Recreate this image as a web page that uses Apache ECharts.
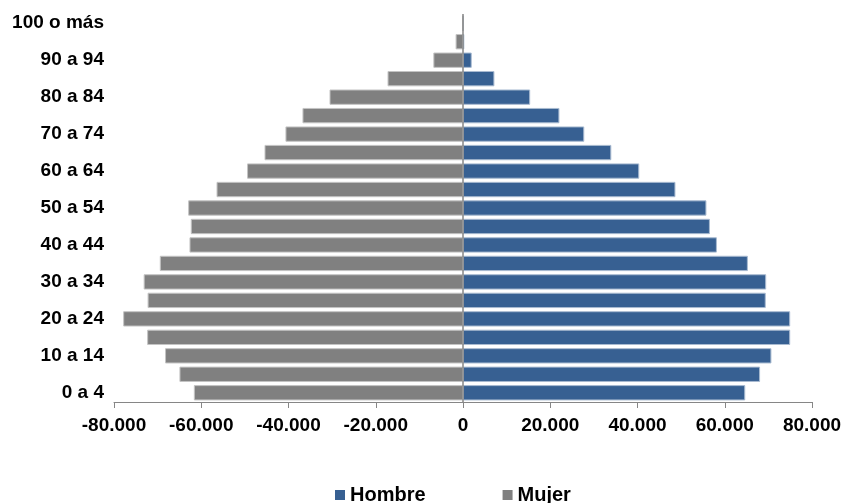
<!DOCTYPE html>
<html><head><meta charset="utf-8">
<script src="https://cdn.jsdelivr.net/npm/echarts@6/dist/echarts.min.js"></script>
<style>html,body{margin:0;padding:0;background:#fff}#c{width:845px;height:503px}</style>
</head><body><div id="c"></div>
<script>
var categories = ['0 a 4','5 a 9','10 a 14','15 a 19','20 a 24','25 a 29','30 a 34','35 a 39','40 a 44','45 a 49','50 a 54','55 a 59','60 a 64','65 a 69','70 a 74','75 a 79','80 a 84','85 a 89','90 a 94','95 a 99','100 o más'];
var hombre = [64700,68100,70700,75000,75000,69400,69500,65300,58200,56600,55800,48700,40400,34000,27800,22100,15400,7200,2000,300,80];
var mujer  = [61700,65000,68300,72400,77900,72300,73200,69500,62700,62400,63000,56500,49500,45500,40700,36800,30600,17300,6800,1700,150];
var xTicks = {min:-80000, max:80000, interval:20000};

function fmt(v){
  var s = Math.abs(v).toString().replace(/\B(?=(\d{3})+(?!\d))/g,'.');
  return (v<0?'-':'') + s;
}
var font = '"Liberation Sans", Arial, sans-serif';
var chart = echarts.init(document.getElementById('c'));
chart.setOption({
  animation:false,
  textStyle:{fontFamily:font},
  grid:{left:114,right:33,top:14,bottom:101,containLabel:false},
  legend:{
    data:[{name:'Hombre',itemStyle:{borderWidth:0}},{name:'Mujer',itemStyle:{borderWidth:0}}],
    top:480, left:330, itemWidth:10, itemHeight:10, itemGap:77,
    icon:'rect',
    textStyle:{fontFamily:font,fontWeight:'bold',fontSize:20,color:'#000'}
  },
  xAxis:{
    type:'value', min:xTicks.min, max:xTicks.max, interval:xTicks.interval,
    splitLine:{show:false},
    axisLine:{show:true,lineStyle:{color:'#868686',width:1}},
    axisTick:{show:true,length:6,lineStyle:{color:'#868686'}},
    axisLabel:{formatter:fmt,color:'#000',fontWeight:'bold',fontSize:19,margin:14,fontFamily:font}
  },
  yAxis:{
    type:'category', data:categories,
    axisLine:{show:false}, axisTick:{show:false},
    axisLabel:{interval:1,color:'#000',fontWeight:'bold',fontSize:19,margin:10,fontFamily:font}
  },
  series:[
    {name:'Hombre',type:'bar',data:hombre,barWidth:'83%',barGap:'-100%',
     itemStyle:{color:'#376092',borderColor:'#a9bbd1',borderWidth:1}},
    {name:'Mujer',type:'bar',data:mujer.map(function(v){return -v;}),barWidth:'83%',barGap:'-100%',
     itemStyle:{color:'#808080',borderColor:'#c4c4c4',borderWidth:1},
     markLine:{silent:true,symbol:'none',label:{show:false},
       lineStyle:{color:'#868686',width:1.5,type:'solid'},
       data:[{xAxis:0}]}}
  ]
});
</script></body></html>
